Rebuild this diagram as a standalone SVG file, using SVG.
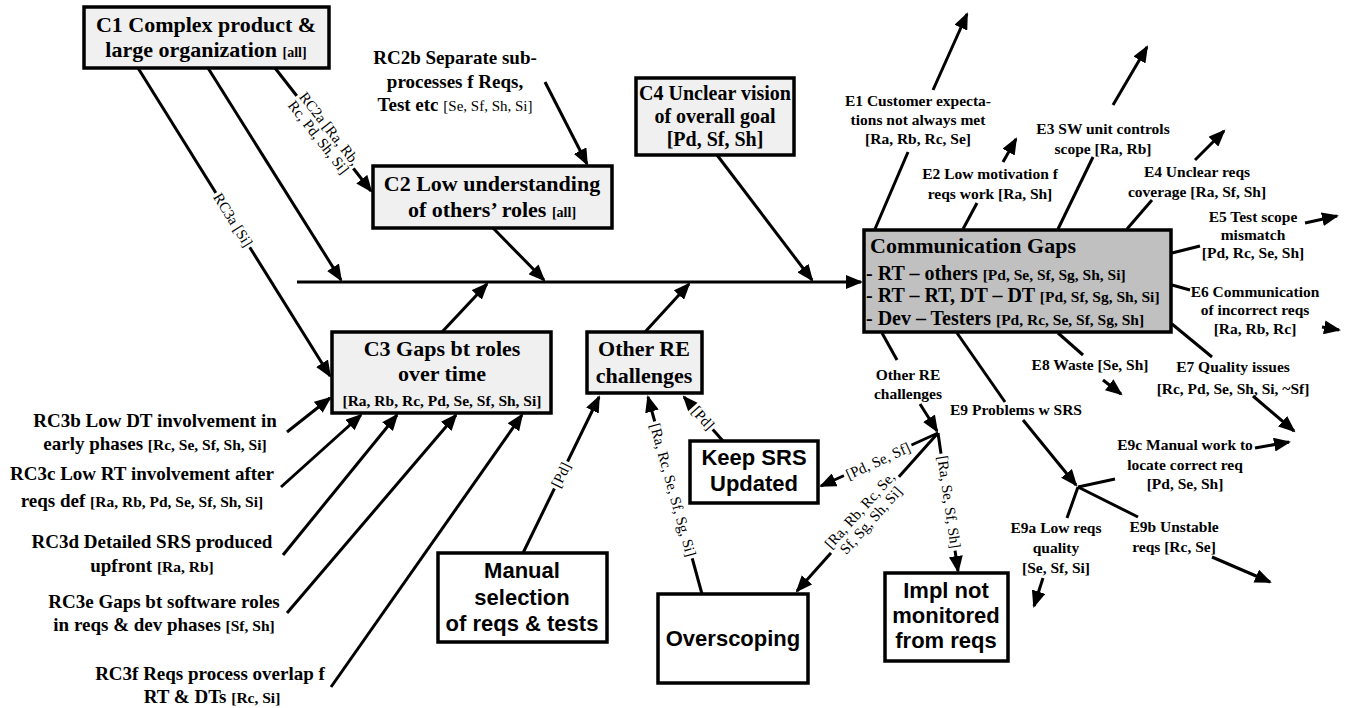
<svg xmlns="http://www.w3.org/2000/svg" width="1347" height="708" viewBox="0 0 1347 708">
<style>
.box{stroke:#000;stroke-width:3.5;fill:#f0f0f0}
.wbox{stroke:#000;stroke-width:3.5;fill:#fff}
.gbox{stroke:#000;stroke-width:3.5;fill:#c0c0c0}
.ln{stroke:#000;stroke-width:3;fill:none}
.ar{stroke:#000;stroke-width:3;fill:none;marker-end:url(#ah)}
.bg{fill:#fff;stroke:none}
text{font-family:"Liberation Serif","Times New Roman",serif;fill:#000}
.t22{font-size:22px;font-weight:bold;text-anchor:middle}
.t20{font-size:20px;font-weight:bold;text-anchor:middle}
.t19{font-size:19px;font-weight:bold;text-anchor:middle}
.e{font-size:15.5px;font-weight:bold;text-anchor:middle}
.br{font-size:15.5px;font-weight:bold}
.brs{font-size:14px;font-weight:bold}
.rg{font-size:15px;font-weight:normal}
.sans{font-family:"Liberation Sans",Arial,sans-serif;font-size:22px;font-weight:bold;text-anchor:middle}
.lbl{font-size:15px;font-weight:normal;text-anchor:middle}
</style>
<defs>
<marker id="ah" markerUnits="userSpaceOnUse" markerWidth="18" markerHeight="14" viewBox="0 0 18 14" refX="15" refY="7" orient="auto">
<path d="M0,0 L17,7 L0,14 z" fill="#000"/>
</marker>
</defs>

<g id="connectors">
<line class="ar" x1="297" y1="282" x2="861" y2="282"/>
<line class="ar" x1="208" y1="68" x2="341" y2="280"/>
<line class="ar" x1="138" y1="68" x2="330" y2="376"/>
<line class="ar" x1="275" y1="68" x2="371" y2="191"/>
<line class="ar" x1="545" y1="82" x2="587" y2="164"/>
<line class="ar" x1="493" y1="228" x2="544" y2="280"/>
<line class="ar" x1="717" y1="155" x2="812" y2="280"/>
<line class="ar" x1="442" y1="332" x2="487" y2="284"/>
<line class="ar" x1="645" y1="332" x2="689" y2="284"/>
<line class="ar" x1="287" y1="432" x2="330" y2="398"/>
<line class="ar" x1="281" y1="487" x2="361" y2="415"/>
<line class="ar" x1="283" y1="555" x2="397" y2="415"/>
<line class="ar" x1="287" y1="613" x2="456" y2="415"/>
<line class="ar" x1="331" y1="687" x2="522" y2="415"/>
<line class="ar" x1="523" y1="553" x2="599" y2="397"/>
<line class="ar" x1="702" y1="594" x2="648" y2="397"/>
<line class="ar" x1="723" y1="441" x2="684" y2="397"/>
<line class="ar" x1="938" y1="433" x2="821" y2="486"/>
<line class="ar" x1="938" y1="433" x2="797" y2="591"/>
<line class="ar" x1="938" y1="433" x2="958" y2="571"/>
<line class="ln" x1="882" y1="333" x2="897" y2="360"/>
<line class="ar" x1="920" y1="404" x2="937" y2="431"/>
<line class="ln" x1="875" y1="229" x2="908" y2="152"/>
<line class="ar" x1="933" y1="90" x2="967" y2="14"/>
<line class="ln" x1="963" y1="229" x2="977" y2="203"/>
<line class="ar" x1="1003" y1="162" x2="1016" y2="139"/>
<line class="ln" x1="1058" y1="229" x2="1093" y2="157"/>
<line class="ar" x1="1113" y1="105" x2="1147" y2="47"/>
<line class="ln" x1="1127" y1="229" x2="1152" y2="200"/>
<line class="ar" x1="1195" y1="160" x2="1224" y2="131"/>
<line class="ln" x1="1172" y1="253" x2="1200" y2="246"/>
<line class="ar" x1="1305" y1="223" x2="1337" y2="216"/>
<line class="ln" x1="1172" y1="285" x2="1190" y2="290"/>
<line class="ar" x1="1322" y1="327" x2="1339" y2="330"/>
<line class="ln" x1="1172" y1="324" x2="1212" y2="357"/>
<line class="ar" x1="1253" y1="396" x2="1294" y2="431"/>
<line class="ln" x1="1058" y1="333" x2="1083" y2="355"/>
<line class="ar" x1="1103" y1="380" x2="1121" y2="394"/>
<line class="ln" x1="957" y1="333" x2="1005" y2="402"/>
<line class="ar" x1="1023" y1="420" x2="1076" y2="485"/>
<line class="ln" x1="1115" y1="479" x2="1078" y2="487"/>
<line class="ar" x1="1255" y1="448" x2="1289" y2="442"/>
<line class="ln" x1="1078" y1="487" x2="1067" y2="518"/>
<line class="ar" x1="1043" y1="578" x2="1034" y2="606"/>
<line class="ln" x1="1078" y1="487" x2="1138" y2="517"/>
<line class="ar" x1="1212" y1="557" x2="1270" y2="582"/>
<g transform="translate(324,133) rotate(52)"><rect class="bg" x="-46" y="-15" width="92" height="31"/><text class="lbl"><tspan x="0" y="-2">RC2a [Ra, Rb,</tspan><tspan x="0" y="12">Rc, Pd, Sh, Si]</tspan></text></g>
<g transform="translate(233,220) rotate(58)"><rect class="bg" x="-32" y="-8" width="64" height="16"/><text class="lbl" x="0" y="5">RC3a [Si]</text></g>
<g transform="translate(561,475) rotate(-64)"><rect class="bg" x="-15" y="-8" width="30" height="16"/><text class="lbl" x="0" y="5">[Pd]</text></g>
<g transform="translate(673,490) rotate(74.5)"><rect class="bg" x="-71" y="-8" width="142" height="16"/><text class="lbl" x="0" y="5">[Ra, Rc, Se, Sf, Sg, Si]</text></g>
<g transform="translate(703,418) rotate(48)"><rect class="bg" x="-15" y="-8" width="30" height="16"/><text class="lbl" x="0" y="5">[Pd]</text></g>
<g transform="translate(878,461) rotate(-24.6)"><rect class="bg" x="-37" y="-8" width="74" height="16"/><text class="lbl" x="0" y="5">[Pd, Se, Sf]</text></g>
<g transform="translate(865,515) rotate(-48.2)"><rect class="bg" x="-51" y="-15" width="102" height="32"/><text class="lbl"><tspan x="0" y="-2">[Ra, Rb, Rc, Se,</tspan><tspan x="0" y="13">Sf, Sg, Sh, Si]</tspan></text></g>
<g transform="translate(949,502) rotate(81.8)"><rect class="bg" x="-49" y="-8" width="98" height="16"/><text class="lbl" x="0" y="5">[Ra, Se, Sf, Sh]</text></g>
</g>

<g id="C1">
<rect class="box" x="84" y="7" width="245" height="61"/>
<text class="t22" x="206" y="32">C1 Complex product &amp;</text>
<text class="t22" x="206" y="57">large organization <tspan class="brs">[all]</tspan></text>
</g>

<g id="RC2b">
<text class="t19" x="455" y="64">RC2b Separate sub-</text>
<text class="t19" x="455" y="88">processes f Reqs,</text>
<text class="t19" x="455" y="111">Test etc <tspan class="rg">[Se, Sf, Sh, Si]</tspan></text>
</g>

<g id="C2">
<rect class="box" x="373" y="166" width="239" height="62"/>
<text class="t22" x="492" y="191">C2 Low understanding</text>
<text class="t22" x="492" y="217">of others’ roles <tspan class="brs">[all]</tspan></text>
</g>

<g id="C4">
<rect class="box" x="636" y="78" width="158" height="77"/>
<text class="t20" x="715" y="100">C4 Unclear vision</text>
<text class="t20" x="715" y="123">of overall goal</text>
<text class="t20" x="715" y="146">[Pd, Sf, Sh]</text>
</g>

<g id="C3">
<rect class="box" x="332" y="332" width="219" height="81"/>
<text class="t22" x="442" y="356">C3 Gaps bt roles</text>
<text class="t22" x="442" y="381">over time</text>
<text class="t22 br" x="442" y="406">[Ra, Rb, Rc, Pd, Se, Sf, Sh, Si]</text>
</g>

<g id="OtherRE">
<rect class="box" x="587" y="332" width="115" height="61"/>
<text class="t22" x="644" y="356">Other RE</text>
<text class="t22" x="644" y="383">challenges</text>
</g>

<g id="RC3b">
<text class="t19" x="155" y="427">RC3b Low DT involvement in</text>
<text class="t19" x="155" y="450">early phases <tspan class="br">[Rc, Se, Sf, Sh, Si]</tspan></text>
</g>
<g id="RC3c">
<text class="t19" x="142" y="480">RC3c Low RT involvement after</text>
<text class="t19" x="142" y="507">reqs def <tspan class="br">[Ra, Rb, Pd, Se, Sf, Sh, Si]</tspan></text>
</g>
<g id="RC3d">
<text class="t19" x="152" y="548">RC3d Detailed SRS produced</text>
<text class="t19" x="152" y="572">upfront <tspan class="br">[Ra, Rb]</tspan></text>
</g>
<g id="RC3e">
<text class="t19" x="164" y="608">RC3e Gaps bt software roles</text>
<text class="t19" x="164" y="631">in reqs &amp; dev phases <tspan class="br">[Sf, Sh]</tspan></text>
</g>
<g id="RC3f">
<text class="t19" x="210" y="680">RC3f Reqs process overlap f</text>
<text class="t19" x="212" y="703">RT &amp; DTs <tspan class="br">[Rc, Si]</tspan></text>
</g>

<g id="Manual">
<rect class="wbox" x="438" y="553" width="169" height="89"/>
<text class="sans" x="522" y="578">Manual</text>
<text class="sans" x="522" y="605">selection</text>
<text class="sans" x="522" y="631">of reqs &amp; tests</text>
</g>

<g id="KeepSRS">
<rect class="wbox" x="690" y="441" width="128" height="62"/>
<text class="sans" x="754" y="465">Keep SRS</text>
<text class="sans" x="754" y="491">Updated</text>
</g>

<g id="Overscoping">
<rect class="wbox" x="658" y="594" width="150" height="89"/>
<text class="sans" x="733" y="646">Overscoping</text>
</g>

<g id="Impl">
<rect class="wbox" x="885" y="573" width="123" height="88"/>
<text class="sans" x="946" y="598">Impl not</text>
<text class="sans" x="946" y="623">monitored</text>
<text class="sans" x="946" y="648">from reqs</text>
</g>

<g id="CommGaps">
<rect class="gbox" x="864" y="230" width="307" height="102"/>
<text x="870" y="253" style="font-size:22px;font-weight:bold">Communication Gaps</text>
<text x="866" y="280" style="font-size:20px;font-weight:bold">- RT – others <tspan class="br">[Pd, Se, Sf, Sg, Sh, Si]</tspan></text>
<text x="866" y="302" style="font-size:20px;font-weight:bold">- RT – RT, DT – DT <tspan class="br">[Pd, Sf, Sg, Sh, Si]</tspan></text>
<text x="866" y="325" style="font-size:20px;font-weight:bold">- Dev – Testers <tspan class="br">[Pd, Rc, Se, Sf, Sg, Sh]</tspan></text>
</g>

<g id="E1">
<text class="e" x="918" y="106">E1 Customer expecta-</text>
<text class="e" x="918" y="125">tions not always met</text>
<text class="e" x="918" y="144">[Ra, Rb, Rc, Se]</text>
</g>
<g id="E2">
<text class="e" x="990" y="179">E2 Low motivation f</text>
<text class="e" x="990" y="199">reqs work [Ra, Sh]</text>
</g>
<g id="E3">
<text class="e" x="1103" y="134">E3 SW unit controls</text>
<text class="e" x="1103" y="154">scope [Ra, Rb]</text>
</g>
<g id="E4">
<text class="e" x="1197" y="177">E4 Unclear reqs</text>
<text class="e" x="1197" y="197">coverage [Ra, Sf, Sh]</text>
</g>
<g id="E5">
<text class="e" x="1253" y="222">E5 Test scope</text>
<text class="e" x="1253" y="240">mismatch</text>
<text class="e" x="1253" y="258">[Pd, Rc, Se, Sh]</text>
</g>
<g id="E6">
<text class="e" x="1255" y="297">E6 Communication</text>
<text class="e" x="1255" y="315">of incorrect reqs</text>
<text class="e" x="1255" y="334">[Ra, Rb, Rc]</text>
</g>
<g id="E7">
<text class="e" x="1233" y="372">E7 Quality issues</text>
<text class="e" x="1233" y="394">[Rc, Pd, Se, Sh, Si, ~Sf]</text>
</g>
<g id="E8">
<text class="e" x="1090" y="370">E8 Waste [Se, Sh]</text>
</g>
<g id="OtherRE2">
<text class="e" x="908" y="380">Other RE</text>
<text class="e" x="908" y="399">challenges</text>
</g>
<g id="E9">
<text class="e" x="1016" y="415">E9 Problems w SRS</text>
</g>
<g id="E9c">
<text class="e" x="1185" y="450">E9c Manual work to</text>
<text class="e" x="1185" y="470">locate correct req</text>
<text class="e" x="1185" y="489">[Pd, Se, Sh]</text>
</g>
<g id="E9a">
<text class="e" x="1056" y="533">E9a Low reqs</text>
<text class="e" x="1056" y="553">quality</text>
<text class="e" x="1056" y="573">[Se, Sf, Si]</text>
</g>
<g id="E9b">
<text class="e" x="1174" y="532">E9b Unstable</text>
<text class="e" x="1174" y="552">reqs [Rc, Se]</text>
</g>
</svg>
